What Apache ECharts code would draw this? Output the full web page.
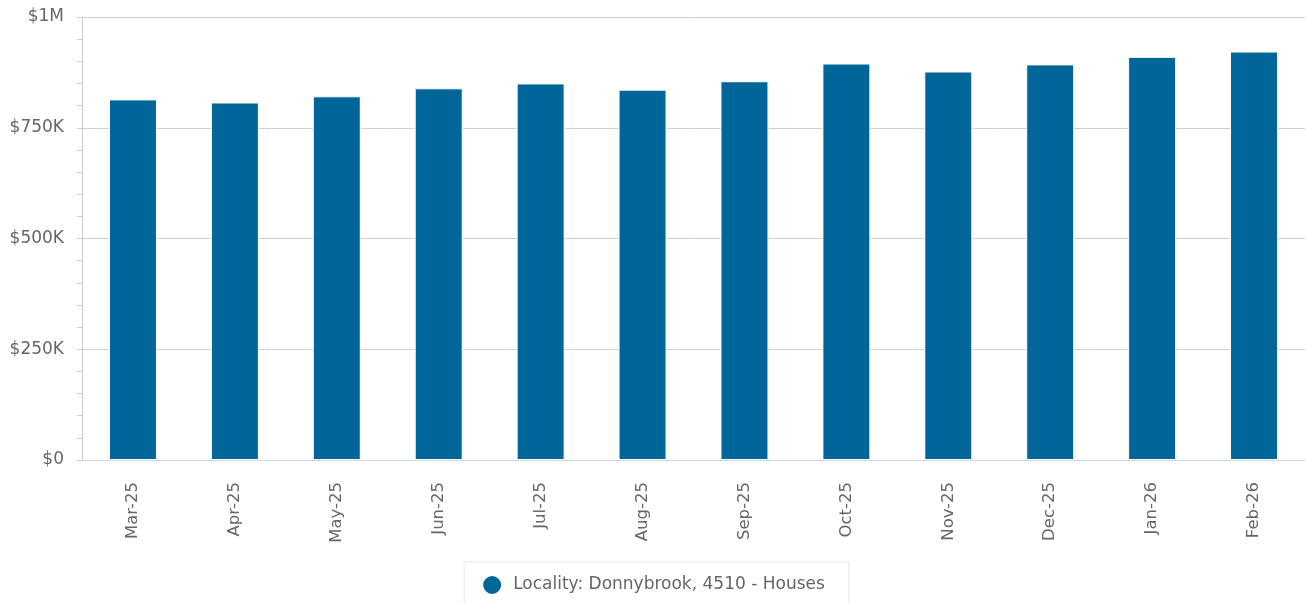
<!DOCTYPE html>
<html lang="en">
<head>
    <meta charset="UTF-8">
    <title>Donnybrook 4510 Houses</title>
    <script type="text/javascript" src="https://cdn.jsdelivr.net/npm/echarts@6/dist/echarts.min.js"></script>
    <style>
        html, body { margin: 0; padding: 0; background: #fff; }
        #container { width: 1306px; height: 603px; }
    </style>
</head>
<body>
<div id="container"></div>
<script type="text/javascript">
    // monthly values
    var months = ['Mar-25', 'Apr-25', 'May-25', 'Jun-25', 'Jul-25', 'Aug-25',
                  'Sep-25', 'Oct-25', 'Nov-25', 'Dec-25', 'Jan-26', 'Feb-26'];
    var houseValues = [814000, 807000, 821000, 839000, 850000, 836000,
                       855000, 895000, 877000, 893000, 910000, 922000];
    var seriesName = 'Locality: Donnybrook, 4510 - Houses';
    var yTickLabels = {0: '$0', 250000: '$250K', 500000: '$500K', 750000: '$750K', 1000000: '$1M'};

    var myChart = echarts.init(document.getElementById('container'));
    var font = 'DejaVu Sans, sans-serif';

    var option = {
        animation: false,
        textStyle: {fontFamily: font},
        grid: {left: 82, right: 1, top: 17, bottom: 143, containLabel: false},
        legend: {
            data: [{name: seriesName, icon: 'circle'}],
            left: 'center',
            top: 562,
            itemWidth: 20,
            itemHeight: 20,
            padding: [12, 24, 14, 17],
            borderColor: '#e6e6e6',
            borderWidth: 1,
            textStyle: {color: '#666', fontSize: 17, fontFamily: font, padding: [0, 0, 0, 6]}
        },
        xAxis: {
            type: 'category',
            data: months,
            axisLine: {lineStyle: {color: '#ccd6eb'}},
            axisTick: {alignWithLabel: true, length: 6, lineStyle: {color: '#ccd6eb'}},
            axisLabel: {rotate: 90, color: '#666', fontSize: 16.5, margin: 22, fontFamily: font}
        },
        yAxis: {
            type: 'value',
            min: 0,
            max: 1000000,
            interval: 250000,
            axisLine: {show: true, lineStyle: {color: '#ccc'}},
            axisTick: {show: true, length: 5, lineStyle: {color: '#ccc'}},
            minorTick: {show: true, splitNumber: 5, length: 5, lineStyle: {color: '#ccc'}},
            splitLine: {lineStyle: {color: '#d0d0d0'}},
            axisLabel: {
                color: '#666',
                fontSize: 17,
                margin: 18,
                fontFamily: font,
                formatter: function (v) { return yTickLabels[v] || ''; }
            }
        },
        series: [{
            name: seriesName,
            type: 'bar',
            data: houseValues,
            barWidth: 48,
            itemStyle: {color: '#006699', borderColor: '#fff', borderWidth: 1}
        }]
    };

    myChart.setOption(option);
</script>
</body>
</html>
